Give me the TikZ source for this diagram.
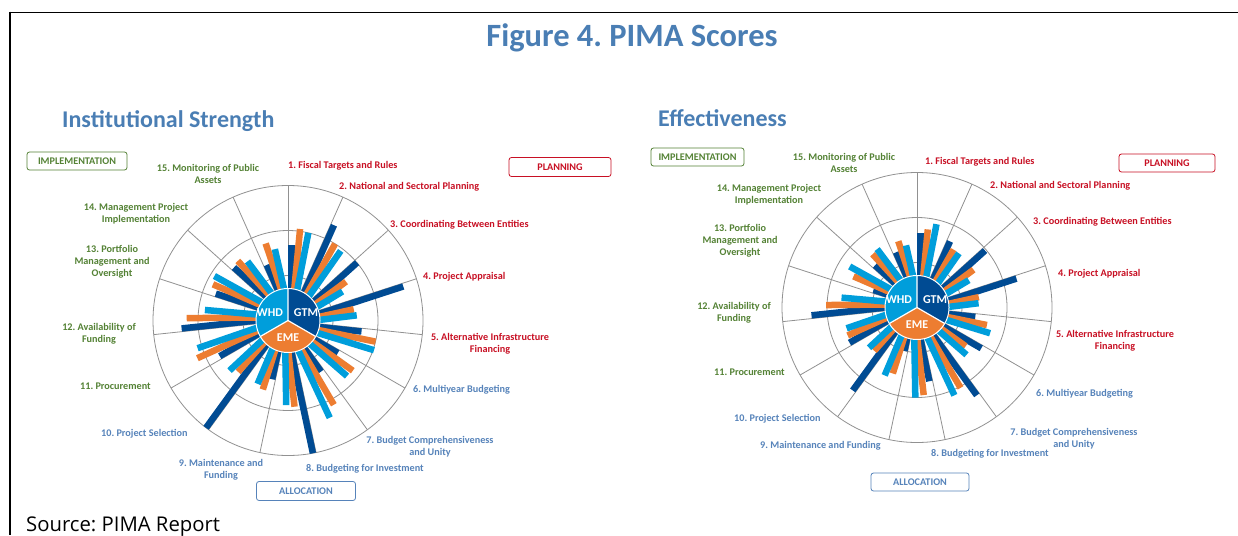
\documentclass[tikz,border=0pt]{standalone}
\usepackage{fontspec}
\setmainfont{Carlito}
\newfontfamily\srcfont{Open Sans}
\frenchspacing
\definecolor{cdark}{RGB}{0,75,147}
\definecolor{corange}{RGB}{237,125,49}
\definecolor{clight}{RGB}{0,158,219}
\definecolor{cred}{RGB}{200,16,36}
\definecolor{cgreen}{RGB}{84,130,53}
\definecolor{cslate}{RGB}{86,131,186}
\definecolor{ctitle}{RGB}{74,126,180}
\definecolor{cgrid}{RGB}{145,145,145}
\tikzset{
  lab/.style={font=\fontsize{10.2}{12}\selectfont\bfseries, align=center, inner sep=0pt},
  grpbox/.style={draw, rounded corners=2.5pt, line width=0.8pt, font=\fontsize{10.2}{12}\selectfont\bfseries, inner sep=0pt},
  gridline/.style={cgrid, line width=0.8pt},
  hubtxt/.style={text=white, font=\fontsize{12}{14}\selectfont\bfseries, inner sep=0pt},
}
\newcommand\pimachart[3]{%
  \begin{scope}[shift={#1}, yscale=-1]
    \foreach \i in {0,...,14} \draw[gridline] (0,0) -- ({90-24*\i}:135);
    \foreach \r in {45,90,135} \draw[gridline] (0,0) circle[radius=\r];
    \foreach \k/\a/\b/\c in {#2} {
      \pgfmathsetmacro\st{90-24*(\k-1)}
      \pgfmathsetmacro\sto{\st-5.5}
      \pgfmathsetmacro\stt{\st-11}
      \fill[cdark] (0,0) -- (\st:{\a*45}) -- ++({\st-90}:6.5) -- ({\st-90}:6.5) -- cycle;
      \fill[corange] (0,0) -- (\sto:{\b*45}) -- ++({\sto-90}:6.5) -- ({\sto-90}:6.5) -- cycle;
      \fill[clight] (0,0) -- (\stt:{\c*45}) -- ++({\stt-90}:6.5) -- ({\stt-90}:6.5) -- cycle;
    }
    \fill[cdark] (0,0) -- (90:32) arc[start angle=90, end angle=-30, radius=32] -- cycle;
    \fill[corange] (0,0) -- (-30:32) arc[start angle=-30, end angle=-150, radius=32] -- cycle;
    \fill[clight] (0,0) -- (-150:32) arc[start angle=-150, end angle=-270, radius=32] -- cycle;
    \draw[white, line width=1.2pt] (0,0) -- (90:32) (0,0) -- (-30:32) (0,0) -- (-150:32);
    \draw[white, line width=1pt] (0,0) circle[radius=32];
    \node[hubtxt] (#3whd) at (-18,7.5) {WHD};
    \node[hubtxt] (#3gtm) at (18,7.5) {GTM};
    \node[hubtxt] (#3eme) at (0,-17.5) {EME};
  \end{scope}
}
\begin{document}
\begin{tikzpicture}[x=1pt, y=1pt, yscale=-1]
\useasboundingbox (0,0) rectangle (1238,535);
\fill[white] (0,0) rectangle (1238,535);
% frame
\draw[line width=1.8pt] (9,12.5) -- (1238,12.5);
\draw[line width=2pt] (10,11.6) -- (10,535);
% titles
\node[font=\fontsize{32.5}{36}\selectfont\bfseries, text=ctitle, inner sep=0pt, anchor=base] (title) at (632,47) {Figure 4. PIMA Scores};
\node[font=\fontsize{24}{28}\selectfont\bfseries, text=ctitle, inner sep=0pt, anchor=base west] (tleft) at (62,127) {Institutional Strength};
\node[font=\fontsize{24}{28}\selectfont\bfseries, text=ctitle, inner sep=0pt, anchor=base west] (tright) at (658,126) {Effectiveness};
\node[font=\srcfont\fontsize{20.3}{24}\selectfont, inner sep=0pt, anchor=base west] (src) at (26,531.5) {Source: PIMA Report};
% charts
\pimachart{(288,320.5)}{1/1.67/2.05/2.0, 2/2.35/2.0/1.94, 3/2.0/1.55/1.37, 4/2.67/1.48/1.53, 5/1.65/2.0/2.02, 6/1.32/1.82/1.8, 7/1.35/2.13/2.35, 8/3.0/1.92/1.88, 9/1.35/1.63/1.56, 10/3.0/1.59/1.71, 11/1.71/2.18/2.10, 12/2.37/2.25/1.86, 13/1.71/1.85/1.91, 14/1.68/1.73/1.59, 15/1.32/1.78/1.61}{L}
\pimachart{(917,307.5)}{1/1.65/1.75/1.9, 2/1.64/1.52/1.52, 3/1.97/1.51/1.30, 4/2.30/1.39/1.37, 5/1.31/1.60/1.72, 6/1.69/1.38/1.52, 7/2.36/2.03/2.12, 8/1.66/1.95/2.0, 9/1.0/1.56/1.67, 10/2.33/1.35/1.39, 11/1.69/1.66/1.63, 12/2.35/2.02/1.69, 13/1.04/1.57/1.75, 14/1.32/1.54/1.57, 15/1.31/1.53/1.40}{R}
% group boxes
\node[grpbox, draw=cgreen, text=cgreen, minimum width=100pt, minimum height=18pt] (impL) at (77,161) {IMPLEMENTATION};
\node[grpbox, draw=cred, text=cred, minimum width=102pt, minimum height=19pt] (plaL) at (560,167) {PLANNING};
\node[grpbox, draw=cslate, text=cslate, minimum width=99pt, minimum height=19pt] (allL) at (306,491) {ALLOCATION};
\node[grpbox, draw=cgreen, text=cgreen, minimum width=93pt, minimum height=18pt] (impR) at (697.5,157) {IMPLEMENTATION};
\node[grpbox, draw=cred, text=cred, minimum width=96pt, minimum height=18pt] (plaR) at (1167,163) {PLANNING};
\node[grpbox, draw=cslate, text=cslate, minimum width=98pt, minimum height=18pt] (allR) at (920,482) {ALLOCATION};
% left labels
\node[lab, text=cgreen] (l15) at (208,174) {15. Monitoring of Public\\Assets};
\node[lab, text=cred, anchor=west] (l1) at (288,166) {1. Fiscal Targets and Rules};
\node[lab, text=cred, anchor=west] (l2) at (339,187) {2. National and Sectoral Planning};
\node[lab, text=cred, anchor=west] (l3) at (390,225) {3. Coordinating Between Entities};
\node[lab, text=cred, anchor=west] (l4) at (423,277) {4. Project Appraisal};
\node[lab, text=cred] (l5) at (490,344) {5. Alternative Infrastructure\\Financing};
\node[lab, text=cslate, anchor=west] (l6) at (413,390) {6. Multiyear Budgeting};
\node[lab, text=cslate] (l7) at (430,447) {7. Budget Comprehensiveness\\and Unity};
\node[lab, text=cslate, anchor=west] (l8) at (306,469) {8. Budgeting for Investment};
\node[lab, text=cslate] (l9) at (221,469.5) {9. Maintenance and\\Funding};
\node[lab, text=cslate, anchor=west] (l10) at (101,434) {10. Project Selection};
\node[lab, text=cgreen, anchor=west] (l11) at (80,386) {11. Procurement};
\node[lab, text=cgreen] (l12) at (99,334) {12. Availability of\\Funding};
\node[lab, text=cgreen] (l13) at (112,262) {13. Portfolio\\Management and\\Oversight};
\node[lab, text=cgreen] (l14) at (136,214) {14. Management Project\\Implementation};
% right labels
\node[lab, text=cgreen] (r15) at (844,163) {15. Monitoring of Public\\Assets};
\node[lab, text=cred, anchor=west] (r1) at (925,162) {1. Fiscal Targets and Rules};
\node[lab, text=cred, anchor=west] (r2) at (990,186) {2. National and Sectoral Planning};
\node[lab, text=cred, anchor=west] (r3) at (1033,222) {3. Coordinating Between Entities};
\node[lab, text=cred, anchor=west] (r4) at (1058,274) {4. Project Appraisal};
\node[lab, text=cred] (r5) at (1115,341) {5. Alternative Infrastructure\\Financing};
\node[lab, text=cslate, anchor=west] (r6) at (1036,394) {6. Multiyear Budgeting};
\node[lab, text=cslate] (r7) at (1074,439) {7. Budget Comprehensiveness\\and Unity};
\node[lab, text=cslate, anchor=west] (r8) at (931,454) {8. Budgeting for Investment};
\node[lab, text=cslate, anchor=west] (r9) at (760,446) {9. Maintenance and Funding};
\node[lab, text=cslate, anchor=west] (r10) at (734,419) {10. Project Selection};
\node[lab, text=cgreen, anchor=west] (r11) at (714,372) {11. Procurement};
\node[lab, text=cgreen] (r12) at (734,313) {12. Availability of\\Funding};
\node[lab, text=cgreen] (r13) at (740,241) {13. Portfolio\\Management and\\Oversight};
\node[lab, text=cgreen] (r14) at (769,195) {14. Management Project\\Implementation};
\end{tikzpicture}
\end{document}
